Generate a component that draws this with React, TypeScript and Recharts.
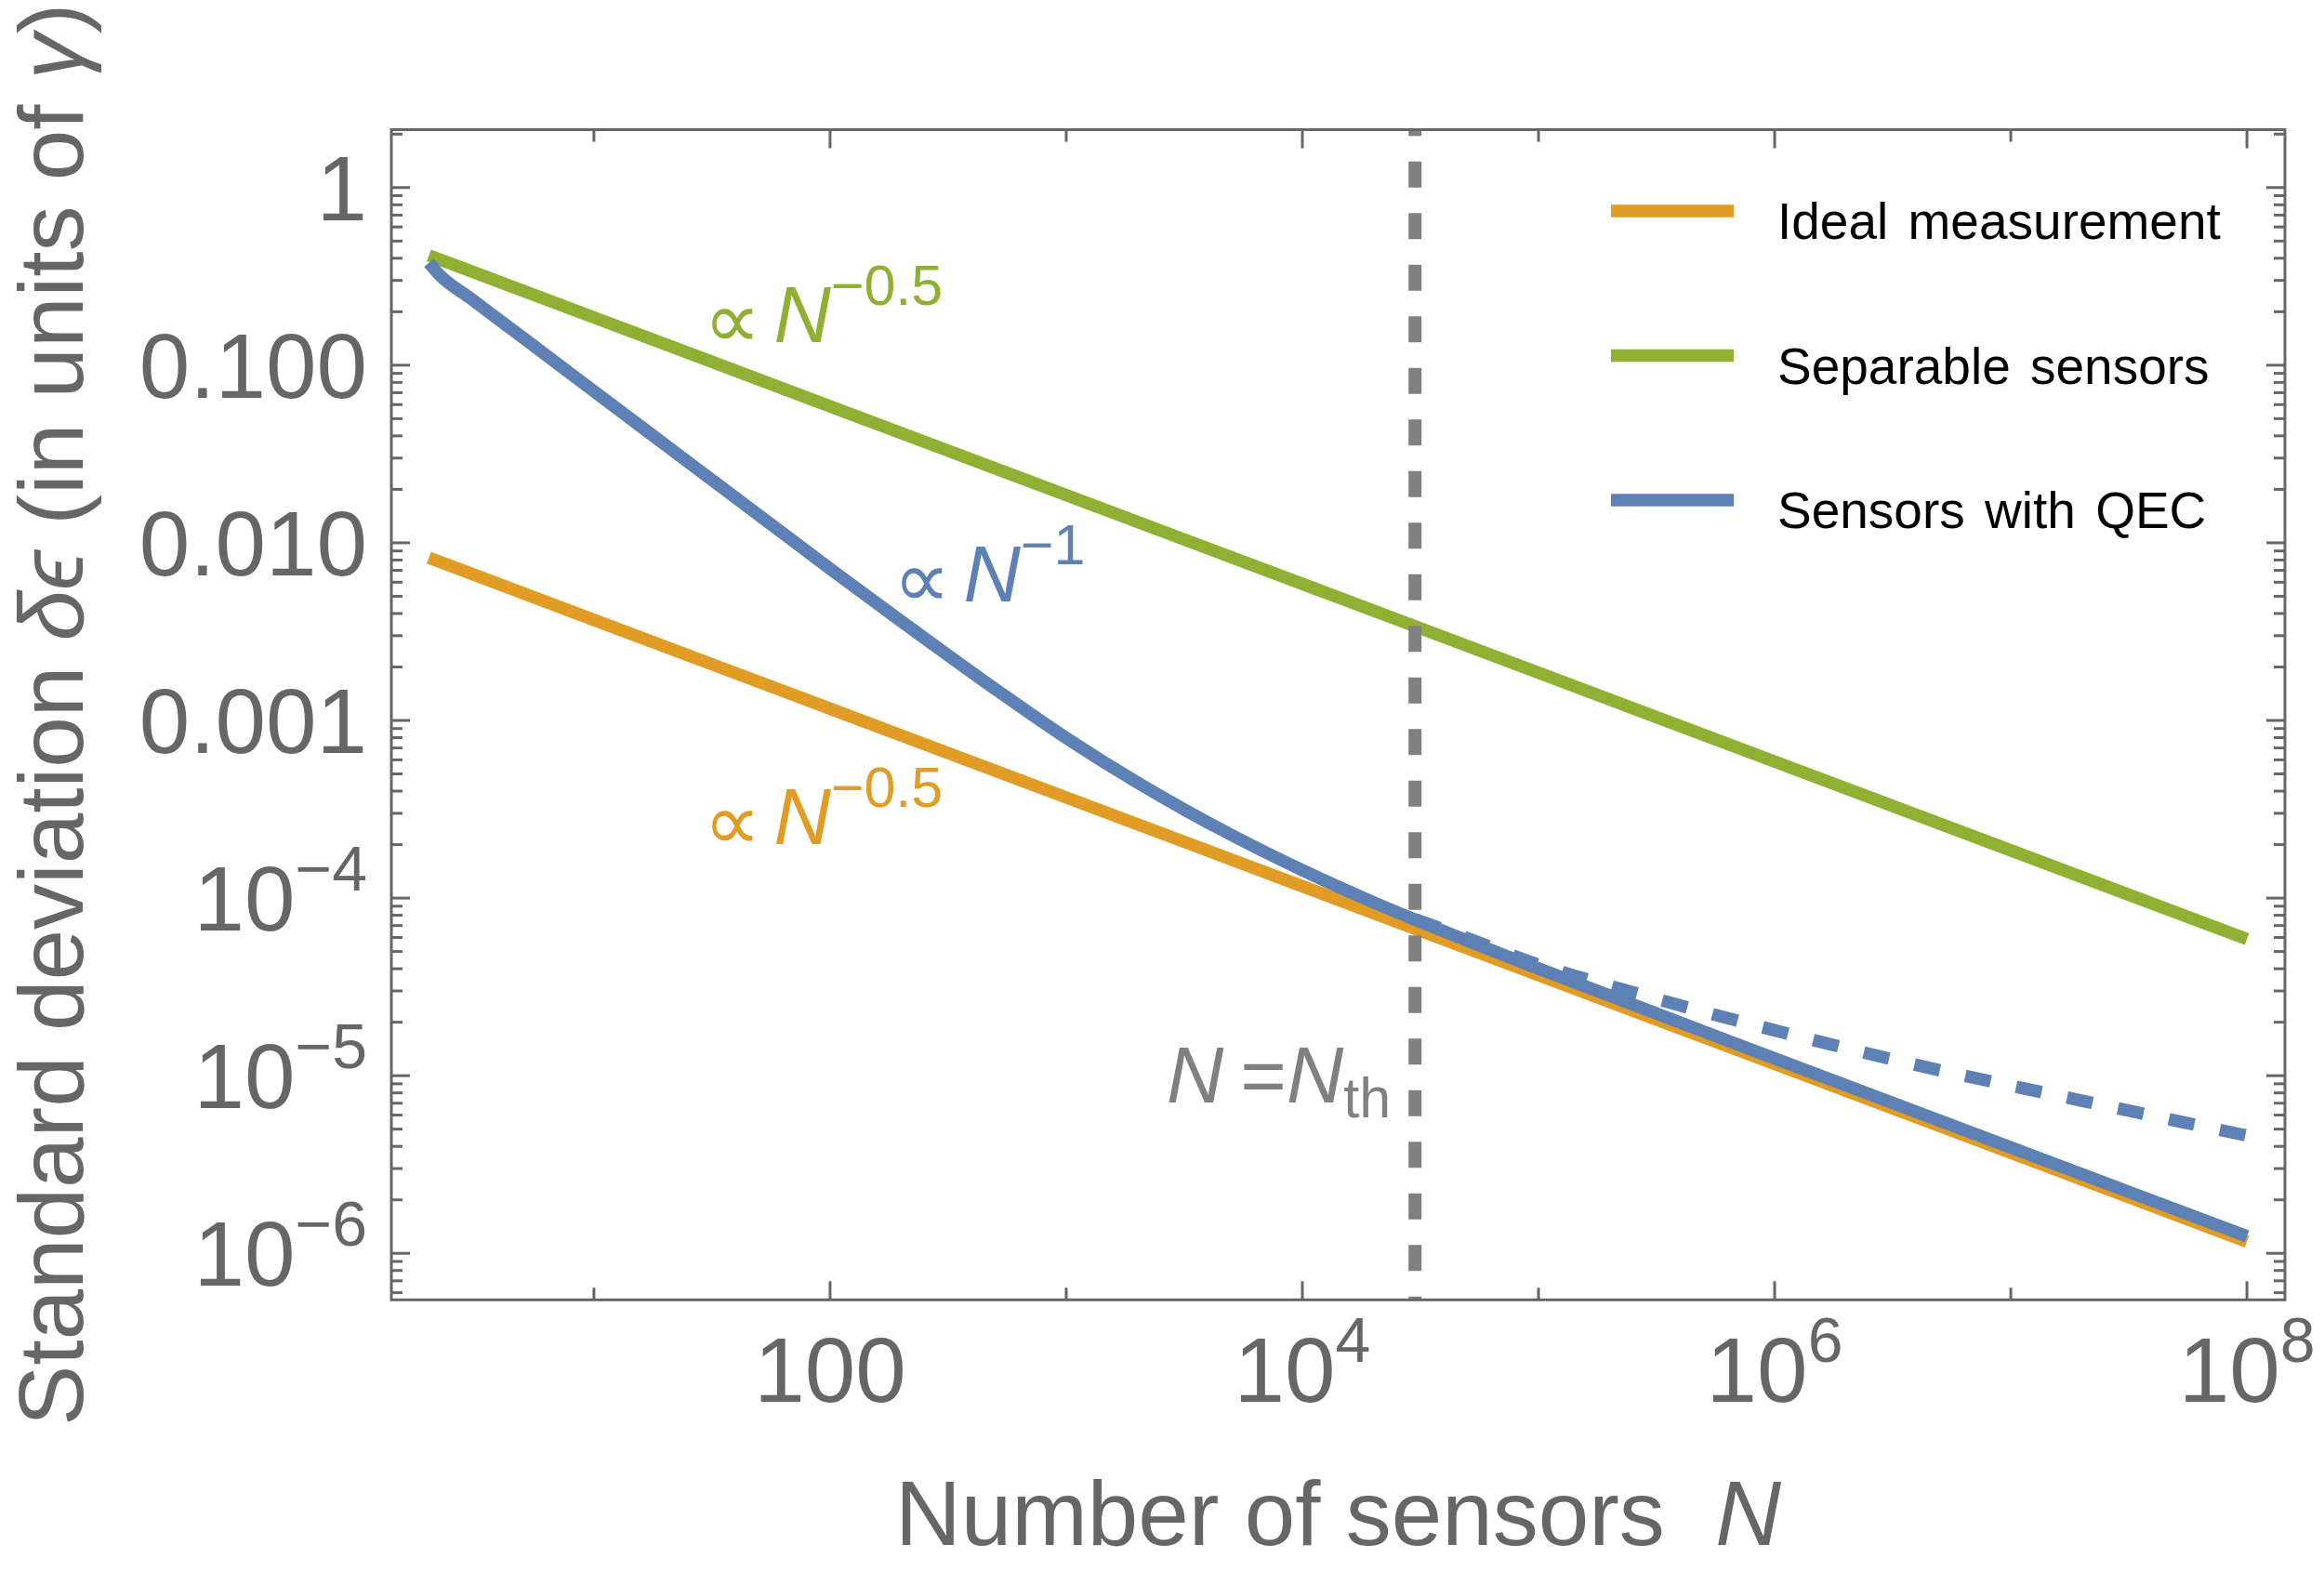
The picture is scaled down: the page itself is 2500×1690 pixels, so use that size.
import React from "react";
import {
  LineChart,
  Line,
  XAxis,
  YAxis,
  ReferenceLine,
  ReferenceDot,
} from "recharts";

const FONT = "'Liberation Sans', Arial, Helvetica, sans-serif";
const FRAME_GREY = "#666666";
const ORANGE = "#E09C24";
const GREEN = "#8FB032";
const BLUE = "#5E81B5";
const GREY = "#808080";

const W = 2500;
const H = 1690;
// plot frame in pixels
const PLOT = { left: 421, top: 139.5, right: 2458, bottom: 1398.3 };
const Y_AXIS_W = 400;
const X_AXIS_H = 200;

const X_DOMAIN = [1.387, 1.449e8];
const Y_DOMAIN = [5.47e-7, 2.118];

// straight power laws
const N_POWER = [2, 10, 100, 1e4, 1e6, 1e8];
const IDEAL = [0.00824, 0.00368, 0.001165, 1.165e-4, 1.165e-5, 1.165e-6];
const SEPARABLE = [0.415, 0.1856, 0.0587, 0.00587, 5.87e-4, 5.87e-5];

// error-corrected sensors
const N_QEC = [
  2, 2.2, 3, 5, 10, 20, 50, 100, 200, 500, 1000, 2000, 5000, 1e4, 2e4, 5e4,
  1e5, 1e6, 1e7, 1e8,
];
const QEC = [
  0.377, 0.326, 0.238, 0.143, 0.0714, 0.0357, 0.01429, 0.00714, 3.622e-3,
  1.503e-3, 7.97e-4, 4.47e-4, 2.268e-4, 1.436e-4, 9.47e-5, 5.75e-5, 4.01e-5,
  1.25e-5, 3.945e-6, 1.247e-6,
];

// dashed branch past the threshold
const N_QEC_DASHED = [3e4, 5e4, 1e5, 2e5, 5e5, 1e6, 2e6, 5e6, 1e7, 2e7, 5e7, 1e8];
const QEC_DASHED = [
  7.6e-5, 5.94e-5, 4.21e-5, 3.21e-5, 2.29e-5, 1.8e-5, 1.43e-5, 1.072e-5,
  8.79e-6, 7.23e-6, 5.58e-6, 4.6e-6,
];

const N_TH = 3e4;

const X_TICKS = [10, 100, 1000, 1e4, 1e5, 1e6, 1e7, 1e8];
const X_TICK_LABELS = ["", "100", "", "10^4", "", "10^6", "", "10^8"];

const Y_MAJOR = [1e-6, 1e-5, 1e-4, 1e-3, 0.01, 0.1, 1];
const Y_MAJOR_LABELS = ["10^\u22126", "10^\u22125", "10^\u22124", "0.001", "0.010", "0.100", "1"];
const Y_MINOR_STEPS = [2, 3, 4, 5, 6, 7, 8, 9];

const LEGEND_LABELS = ["Ideal measurement", "Separable sensors", "Sensors with QEC"];
const LEGEND_COLORS = [ORANGE, GREEN, BLUE];

// text anchors (start of text, baseline) in data units
const NOTE_SEPARABLE = { n: 29.15, v: 0.1352 };
const NOTE_IDEAL = { n: 29.15, v: 2.01e-4 };
const NOTE_QEC = { n: 185.2, v: 4.68e-3 };
const NOTE_TH = { n: 2661, v: 7.05e-6 };

const rows = (ns: number[], vs: number[]) => ns.map((n, i) => ({ n, v: vs[i] }));

const idealRows = rows(N_POWER, IDEAL);
const separableRows = rows(N_POWER, SEPARABLE);
const qecRows = rows(N_QEC, QEC);
const qecDashedRows = rows(N_QEC_DASHED, QEC_DASHED);

const yMinor: number[] = [];
[1e-7, ...Y_MAJOR].forEach((d) =>
  Y_MINOR_STEPS.forEach((s) => {
    const t = d * s;
    if (t > Y_DOMAIN[0] && t < Y_DOMAIN[1]) yMinor.push(t);
  })
);
const Y_TICKS = [...Y_MAJOR, ...yMinor].sort((a, b) => a - b);

function PowerText({ x, y, anchor, text }: any) {
  const [base, exp] = text.split("^");
  return (
    <text x={x} y={y} textAnchor={anchor} fontFamily={FONT} fontSize={98} fill={FRAME_GREY}>
      {base}
      {exp && (
        <tspan dy={-43} fontSize={68}>
          {exp}
        </tspan>
      )}
    </text>
  );
}

function XTick(props: any) {
  const { x, y, payload } = props;
  const label = X_TICK_LABELS[X_TICKS.indexOf(payload.value)];
  const len = label ? 20 : 13;
  return (
    <g>
      <line x1={x} x2={x} y1={y} y2={y - len} stroke={FRAME_GREY} strokeWidth={3} />
      <line x1={x} x2={x} y1={PLOT.top} y2={PLOT.top + len} stroke={FRAME_GREY} strokeWidth={3} />
      {label && <PowerText x={x} y={y + 110} anchor="middle" text={label} />}
    </g>
  );
}

function YTick(props: any) {
  const { x, y, payload } = props;
  const i = Y_MAJOR.indexOf(payload.value);
  const len = i >= 0 ? 20 : 12;
  return (
    <g>
      <line x1={x} x2={x + len} y1={y} y2={y} stroke={FRAME_GREY} strokeWidth={3} />
      <line x1={PLOT.right} x2={PLOT.right - len} y1={y} y2={y} stroke={FRAME_GREY} strokeWidth={3} />
      {i >= 0 && <PowerText x={x - 26} y={y + 35} anchor="end" text={Y_MAJOR_LABELS[i]} />}
    </g>
  );
}

function PowerLawNote({ cx, cy, color, exponent }: any) {
  return (
    <text x={cx} y={cy} fill={color} fontFamily={FONT} fontSize={85}>
      <tspan fontFamily="'DejaVu Sans', sans-serif" fontSize={86} dy={6}>
        {"\u221D"}
      </tspan>
      <tspan fontStyle="italic" dx={14} dy={-6}>
        N
      </tspan>
      <tspan dy={-40} fontSize={61}>
        {exponent}
      </tspan>
    </text>
  );
}

function ThresholdNote({ cx, cy }: any) {
  return (
    <text x={cx} y={cy} fill={GREY} fontFamily={FONT} fontSize={85}>
      <tspan fontStyle="italic">N</tspan>
      <tspan dx={18}>=</tspan>
      <tspan fontStyle="italic">N</tspan>
      <tspan dy={16} fontSize={61}>
        th
      </tspan>
    </text>
  );
}

export default function App() {
  const midY = (PLOT.top + PLOT.bottom) / 2;
  return (
    <div style={{ position: "absolute", left: 0, top: 0, width: W, height: H, background: "#fff" }}>
      <LineChart
        width={W}
        height={H}
        margin={{
          top: PLOT.top,
          right: W - PLOT.right,
          bottom: H - PLOT.bottom - X_AXIS_H,
          left: PLOT.left - Y_AXIS_W,
        }}
      >
        <XAxis
          dataKey="n"
          type="number"
          scale="log"
          domain={X_DOMAIN}
          allowDataOverflow
          ticks={X_TICKS}
          interval={0}
          height={X_AXIS_H}
          axisLine={false}
          tickLine={false}
          tickSize={0}
          tickMargin={0}
          tick={XTick}
        />
        <YAxis
          type="number"
          scale="log"
          domain={Y_DOMAIN}
          allowDataOverflow
          ticks={Y_TICKS}
          interval={0}
          width={Y_AXIS_W}
          axisLine={false}
          tickLine={false}
          tickSize={0}
          tickMargin={0}
          tick={YTick}
        />
        <Line data={idealRows} dataKey="v" type="linear" stroke={ORANGE} strokeWidth={13.5} dot={false} isAnimationActive={false} />
        <Line data={separableRows} dataKey="v" type="linear" stroke={GREEN} strokeWidth={13.5} dot={false} isAnimationActive={false} />
        <Line data={qecRows} dataKey="v" type="monotone" stroke={BLUE} strokeWidth={13.5} strokeLinejoin="round" dot={false} isAnimationActive={false} />
        <Line data={qecDashedRows} dataKey="v" type="monotone" stroke={BLUE} strokeWidth={13.5} strokeDasharray="28 28" dot={false} isAnimationActive={false} />
        <ReferenceLine
          segment={[
            { x: N_TH, y: Y_DOMAIN[0] },
            { x: N_TH, y: Y_DOMAIN[1] },
          ]}
          ifOverflow="visible"
          stroke={GREY}
          strokeWidth={14}
          strokeDasharray="28 27.5"
          strokeDashoffset={24.5}
        />
        <ReferenceDot x={NOTE_SEPARABLE.n} y={NOTE_SEPARABLE.v} r={0} shape={(p: any) => <PowerLawNote cx={p.cx} cy={p.cy} color={GREEN} exponent={"\u22120.5"} />} />
        <ReferenceDot x={NOTE_IDEAL.n} y={NOTE_IDEAL.v} r={0} shape={(p: any) => <PowerLawNote cx={p.cx} cy={p.cy} color={ORANGE} exponent={"\u22120.5"} />} />
        <ReferenceDot x={NOTE_QEC.n} y={NOTE_QEC.v} r={0} shape={(p: any) => <PowerLawNote cx={p.cx} cy={p.cy} color={BLUE} exponent={"\u22121"} />} />
        <ReferenceDot x={NOTE_TH.n} y={NOTE_TH.v} r={0} shape={(p: any) => <ThresholdNote cx={p.cx} cy={p.cy} />} />
      </LineChart>

      <svg width={W} height={H} style={{ position: "absolute", left: 0, top: 0, pointerEvents: "none" }}>
        <rect
          x={PLOT.left}
          y={PLOT.top}
          width={PLOT.right - PLOT.left}
          height={PLOT.bottom - PLOT.top}
          fill="none"
          stroke={FRAME_GREY}
          strokeWidth={3}
        />
        <text
          x={89}
          y={midY}
          transform={`rotate(-90 89 ${midY})`}
          textAnchor="middle"
          fontFamily={FONT}
          fontSize={98}
          fill={FRAME_GREY}
        >
          {"Standard deviation "}
          <tspan fontStyle="italic">{"\u03B4\u03F5"}</tspan>
          {" (in units of "}
          <tspan fontStyle="italic">{"\u03B3"}</tspan>
          {")"}
        </text>
        <text
          x={(PLOT.left + PLOT.right) / 2}
          y={1662}
          textAnchor="middle"
          fontFamily={FONT}
          fontSize={98}
          fill={FRAME_GREY}
        >
          {"Number of sensors\u00A0\u00A0"}
          <tspan fontStyle="italic">N</tspan>
        </text>
        {LEGEND_LABELS.map((label, i) => {
          const cy = 227 + i * 155.5;
          return (
            <g key={label}>
              <line x1={1733} x2={1865} y1={cy} y2={cy} stroke={LEGEND_COLORS[i]} strokeWidth={13.5} />
              <text x={1912} y={cy + 30} fontFamily={FONT} fontSize={55} fill="#000" style={{ wordSpacing: 6 }}>
                {label}
              </text>
            </g>
          );
        })}
      </svg>
    </div>
  );
}
